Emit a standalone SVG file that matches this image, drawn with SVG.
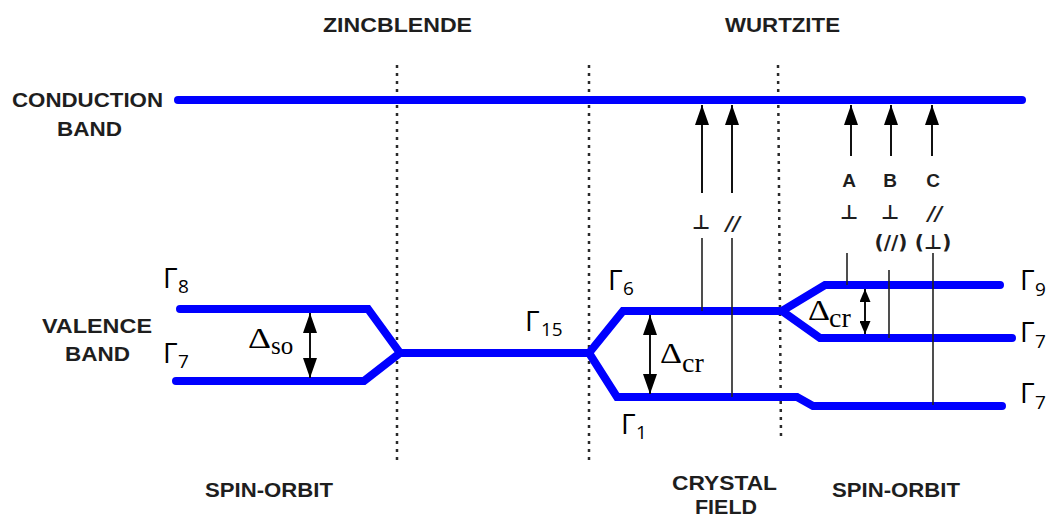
<svg xmlns="http://www.w3.org/2000/svg" width="1051" height="517" viewBox="0 0 1051 517">
<style>
.lbl{font-family:"Liberation Sans",Arial,sans-serif;font-weight:bold;font-size:20px;fill:#1e1e1e}
.sym{font-family:"DejaVu Sans",sans-serif;font-weight:bold;font-size:20px;fill:#1e1e1e}
.abc{font-family:"Liberation Sans",Arial,sans-serif;font-weight:bold;font-size:19px;fill:#1e1e1e}
.gam{font-family:"Open Sans","Noto Sans",sans-serif;font-size:28px;fill:#000}
.sub{font-family:"Open Sans","Noto Sans",sans-serif;font-size:19px;fill:#000}
.del{font-family:"Liberation Serif","Times New Roman",serif;font-size:29px;fill:#000}
.band{fill:none;stroke:#0000ff;stroke-width:8;stroke-linecap:round;stroke-linejoin:miter;stroke-miterlimit:4}
.dot{stroke:#2a2a2a;stroke-width:2.5;stroke-dasharray:3 5;fill:none}
.arr{stroke:#111;stroke-width:2;fill:none}
.thin{stroke:#222;stroke-width:1.6;fill:none}
</style>
<defs>
<marker id="ah" viewBox="0 0 20 14" refX="20" refY="7" markerWidth="20" markerHeight="14" orient="auto-start-reverse" markerUnits="userSpaceOnUse"><path d="M0,0 L20,7 L0,14 z" fill="#000"/></marker>
<marker id="ahs" viewBox="0 0 13 11" refX="13" refY="5.5" markerWidth="13" markerHeight="11" orient="auto-start-reverse" markerUnits="userSpaceOnUse"><path d="M0,0 L13,5.5 L0,11 z" fill="#000"/></marker>
</defs>

<g id="dividers">
<line class="dot" x1="397" y1="65" x2="397" y2="461"/>
<line class="dot" x1="589" y1="65" x2="589" y2="461"/>
<line class="dot" x1="778" y1="65" x2="781" y2="437"/>
</g>

<g id="headings">
<text class="lbl" x="323" y="32" textLength="149" lengthAdjust="spacingAndGlyphs">ZINCBLENDE</text>
<text class="lbl" x="725" y="32" textLength="115" lengthAdjust="spacingAndGlyphs">WURTZITE</text>
<text class="lbl" x="12" y="107" textLength="151" lengthAdjust="spacingAndGlyphs">CONDUCTION</text>
<text class="lbl" x="57" y="136" textLength="65" lengthAdjust="spacingAndGlyphs">BAND</text>
<text class="lbl" x="42" y="333" textLength="110" lengthAdjust="spacingAndGlyphs">VALENCE</text>
<text class="lbl" x="65" y="361" textLength="65" lengthAdjust="spacingAndGlyphs">BAND</text>
<text class="lbl" x="205" y="497" textLength="128" lengthAdjust="spacingAndGlyphs">SPIN-ORBIT</text>
<text class="lbl" x="672" y="490" textLength="105" lengthAdjust="spacingAndGlyphs">CRYSTAL</text>
<text class="lbl" x="695" y="514" textLength="62" lengthAdjust="spacingAndGlyphs">FIELD</text>
<text class="lbl" x="832" y="497" textLength="128" lengthAdjust="spacingAndGlyphs">SPIN-ORBIT</text>
</g>

<g id="bands">
<path id="conduction-band" class="band" d="M178,100 H1022"/>
<path id="zb-valence" class="band" d="M180,309 H368 L400,353 L364,381 H176"/>
<path id="gamma15-band" class="band" d="M400,353 H589"/>
<path id="wz-valence" class="band" d="M1000,285 H825 L782,311 H623 L589,353 L617,397 H797 L813,406 H1002"/>
<path id="wz-split" class="band" d="M782,311 L820,338 H1012"/>
</g>

<g id="connectors">
<line class="arr" x1="702" y1="193" x2="702" y2="105" marker-end="url(#ah)"/>
<line class="thin" x1="702" y1="238" x2="702" y2="311"/>
<line class="arr" x1="732" y1="193" x2="732" y2="105" marker-end="url(#ah)"/>
<line class="thin" x1="732" y1="238" x2="732" y2="397"/>
<line class="arr" x1="851" y1="156" x2="851" y2="105" marker-end="url(#ah)"/>
<line class="thin" x1="847" y1="253" x2="847" y2="285"/>
<line class="arr" x1="891" y1="156" x2="891" y2="105" marker-end="url(#ah)"/>
<line class="thin" x1="889" y1="270" x2="889" y2="338"/>
<line class="arr" x1="932" y1="156" x2="932" y2="105" marker-end="url(#ah)"/>
<line class="thin" x1="933" y1="253" x2="933" y2="405"/>
<line class="arr" x1="310" y1="313" x2="310" y2="378" marker-start="url(#ah)" marker-end="url(#ah)"/>
<line class="arr" x1="650" y1="315" x2="650" y2="394" marker-start="url(#ah)" marker-end="url(#ah)"/>
<line class="arr" x1="865" y1="289" x2="865" y2="334" marker-start="url(#ahs)" marker-end="url(#ahs)"/>
</g>

<g id="polarization-labels">
<text class="sym" x="701" y="229" text-anchor="middle">⊥</text>
<text class="sym" x="733" y="230" text-anchor="middle" font-style="italic">//</text>
<text class="abc" x="849" y="187" text-anchor="middle">A</text>
<text class="abc" x="890" y="187" text-anchor="middle">B</text>
<text class="abc" x="933" y="187" text-anchor="middle">C</text>
<text class="sym" x="849" y="219" text-anchor="middle">⊥</text>
<text class="sym" x="890" y="219" text-anchor="middle">⊥</text>
<text class="sym" x="935" y="220" text-anchor="middle" font-style="italic">//</text>
<text class="sym" x="891" y="249" text-anchor="middle" font-size="18">(//)</text>
<text class="sym" x="933" y="249" text-anchor="middle" font-size="18">(⊥)</text>
</g>

<g id="deltas">
<text class="del" x="248" y="348"><tspan textLength="23" lengthAdjust="spacingAndGlyphs">Δ</tspan><tspan font-size="25" x="271" y="354">so</tspan></text>
<text class="del" x="660" y="363"><tspan textLength="22" lengthAdjust="spacingAndGlyphs">Δ</tspan><tspan font-size="28" x="682" y="372">cr</tspan></text>
<text class="del" x="808" y="320"><tspan textLength="22" lengthAdjust="spacingAndGlyphs">Δ</tspan><tspan font-size="28" x="829" y="327">cr</tspan></text>
</g>

<g id="gamma-labels">
<g id="g8"><text class="gam" x="163" y="288">Γ</text><text class="sub" x="178" y="293">8</text></g>
<g id="g7a"><text class="gam" x="163" y="363">Γ</text><text class="sub" x="178" y="368">7</text></g>
<g id="g15"><text class="gam" x="525" y="331">Γ</text><text class="sub" x="541" y="336">15</text></g>
<g id="g6"><text class="gam" x="608" y="290">Γ</text><text class="sub" x="623" y="295">6</text></g>
<g id="g1"><text class="gam" x="621" y="434">Γ</text><text class="sub" x="636" y="439">1</text></g>
<g id="g9"><text class="gam" x="1020" y="290">Γ</text><text class="sub" x="1035" y="296">9</text></g>
<g id="g7b"><text class="gam" x="1020" y="342">Γ</text><text class="sub" x="1035" y="348">7</text></g>
<g id="g7c"><text class="gam" x="1020" y="403">Γ</text><text class="sub" x="1035" y="409">7</text></g>
</g>
</svg>
